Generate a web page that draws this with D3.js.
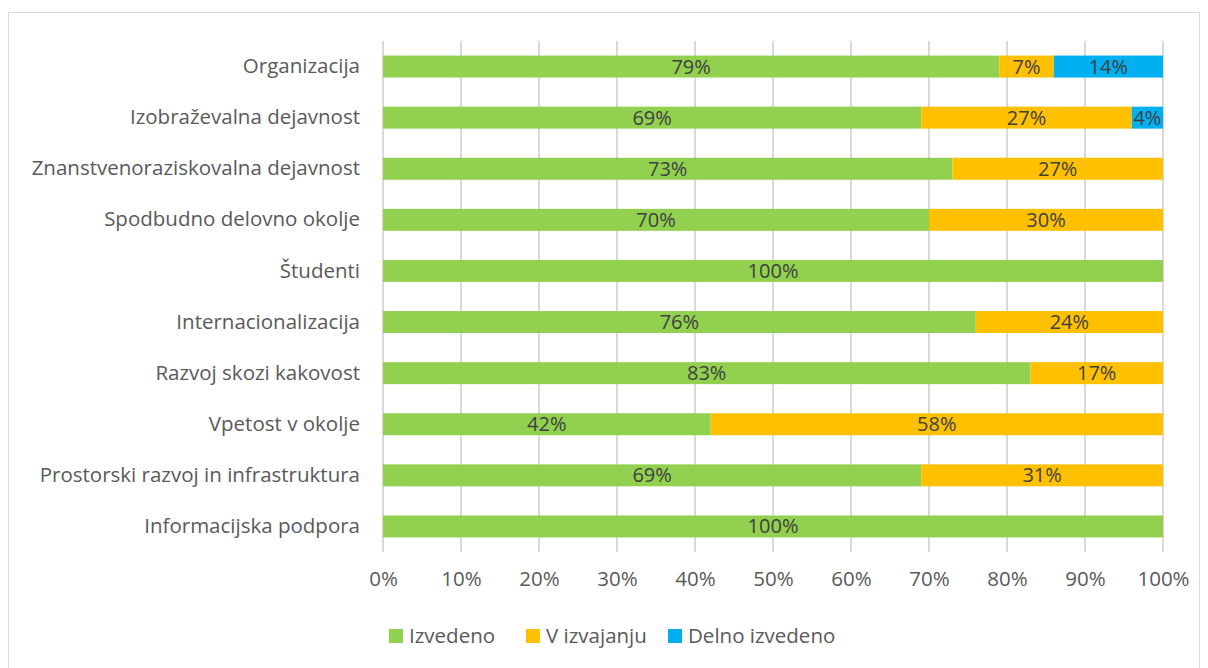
<!DOCTYPE html>
<html>
<head>
<meta charset="utf-8">
<style>
    body { margin: 0; background: #fff; }
    svg { display: block; }
    svg text { font-family: "Open Sans", "Liberation Sans", sans-serif; }
    .y.axis text { font-size: 20.5px; fill: #595959; }
    .x.axis text { font-size: 20.5px; fill: #595959; }
    .label { font-size: 20px; fill: #404040; }
    .legend text { font-size: 20.5px; fill: #595959; }
</style>
</head>
<body>
<svg width="1208" height="668"></svg>
<script src="https://d3js.org/d3.v7.min.js"></script>
<script>
    let categories = ["Organizacija", "Izobraževalna dejavnost", "Znanstvenoraziskovalna dejavnost",
        "Spodbudno delovno okolje", "Študenti", "Internacionalizacija", "Razvoj skozi kakovost",
        "Vpetost v okolje", "Prostorski razvoj in infrastruktura", "Informacijska podpora"]
    let seriesNames = ["Izvedeno", "V izvajanju", "Delno izvedeno"]
    let izvedeno = [79, 69, 73, 70, 100, 76, 83, 42, 69, 100]
    let vIzvajanju = [7, 27, 27, 30, 0, 24, 17, 58, 31, 0]
    let delnoIzvedeno = [14, 4, 0, 0, 0, 0, 0, 0, 0, 0]
    let tickValues = [0, 10, 20, 30, 40, 50, 60, 70, 80, 90, 100]
    let colors = ["#92D050", "#FFC000", "#00B0F0"]

    let svg = d3.select("svg")

    // chart border
    svg.append("rect")
        .attr("x", 8.5).attr("y", 12.5)
        .attr("width", 1191).attr("height", 670)
        .attr("fill", "none")
        .attr("stroke", "#d9d9d9")

    let margin = { top: 41, left: 383, right: 45, bottom: 116 }
    let width = 1208, height = 668

    let x = d3.scaleLinear().domain([0, 100]).range([margin.left, width - margin.right])
    let y = d3.scaleBand().domain(categories)
        .range([margin.top, height - margin.bottom])
        .paddingInner(0.57).paddingOuter(0.285)

    // gridlines
    svg.append("g")
        .selectAll("line")
        .data(tickValues)
        .join("line")
        .attr("x1", d => x(d)).attr("x2", d => x(d))
        .attr("y1", margin.top).attr("y2", height - margin.bottom)
        .attr("stroke", "#d9d9d9")
        .attr("stroke-width", 2)

    let xAxis = svg.append("g")
        .attr("class", "x axis")
        .attr("transform", `translate(0,${height - margin.bottom})`)
        .call(d3.axisBottom(x).tickValues(tickValues).tickFormat(d => d + "%").tickSize(0).tickPadding(19))
        .call(g => g.select(".domain").remove())
        .attr("font-family", null).attr("font-size", null)

    let yAxis = svg.append("g")
        .attr("class", "y axis")
        .attr("transform", `translate(${margin.left},0)`)
        .call(d3.axisLeft(y).tickSize(0).tickPadding(23))
        .call(g => g.select(".domain").remove())
        .attr("font-family", null).attr("font-size", null)

    let rows = categories.map((c, i) => ({
        cat: c, "Izvedeno": izvedeno[i], "V izvajanju": vIzvajanju[i], "Delno izvedeno": delnoIzvedeno[i]
    }))
    let stacked = d3.stack().keys(seriesNames)(rows)

    let groups = svg.append("g")
        .selectAll("g")
        .data(stacked)
        .join("g")
        .attr("fill", (d, i) => colors[i])

    groups.selectAll("rect")
        .data(d => d.filter(p => p[1] > p[0]))
        .join("rect")
        .attr("x", d => x(d[0]))
        .attr("y", d => y(d.data.cat))
        .attr("width", d => x(d[1]) - x(d[0]))
        .attr("height", y.bandwidth())

    groups.selectAll("text")
        .data(d => d.filter(p => p[1] > p[0]))
        .join("text")
        .attr("class", "label")
        .attr("x", d => (x(d[0]) + x(d[1])) / 2)
        .attr("y", d => y(d.data.cat) + y.bandwidth() / 2)
        .attr("dy", "0.35em")
        .attr("text-anchor", "middle")
        .text(d => (d[1] - d[0]) + "%")

    // legend
    let legendX = [389, 526, 668]
    let legend = svg.append("g")
        .attr("class", "legend")
        .selectAll("g")
        .data(seriesNames)
        .join("g")
        .attr("transform", (d, i) => `translate(${legendX[i]},629)`)
    legend.append("rect")
        .attr("width", 14).attr("height", 14)
        .attr("fill", (d, i) => colors[i])
    legend.append("text")
        .attr("x", 20).attr("y", 7)
        .attr("dy", "0.35em")
        .text(d => d)
</script>
</body>
</html>
